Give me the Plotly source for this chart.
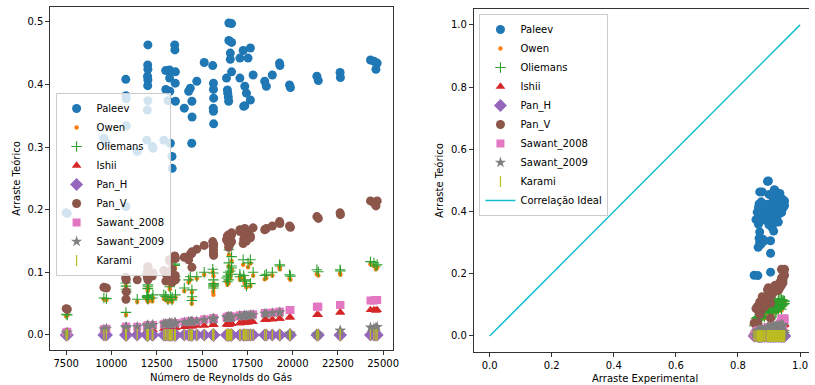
import plotly.graph_objects as go

# ---------------- data ----------------
reynolds = [7500, 7560, 9580, 9720, 10790, 10800, 10810, 10820, 10800, 11420,
            12010, 12000, 12010, 11990, 12010, 12000, 12010, 11980, 11950, 12250, 12290,
            12890, 12990, 13000, 13120, 13490, 13500, 13200, 13530, 13210, 13520, 13220, 13530, 13250, 13340, 13350,
            14020, 14350, 14710, 14260, 14440, 14450, 14430,
            15120, 15590, 15630, 15630, 15640, 15620, 15630, 15640,
            16480, 16630, 16480, 16630, 16560, 16560, 16350, 16400, 16450, 16470, 16420, 16630,
            17270, 17670, 17540, 17090, 17090, 17820, 17360, 17450, 17670, 17360, 17300,
            18460, 18550, 18880, 19280, 19300, 19830, 19880, 21340, 21420, 22620, 22640,
            24300, 24490, 24670, 24600]

arraste_exp = [0.852, 0.864, 0.868, 0.872, 0.885, 0.878, 0.874, 0.870, 0.905, 0.872,
               0.870, 0.875, 0.868, 0.866, 0.885, 0.862, 0.858, 0.866, 0.872, 0.870, 0.876,
               0.880, 0.875, 0.870, 0.872, 0.878, 0.900, 0.895, 0.900, 0.890, 0.878, 0.876, 0.870, 0.885, 0.865, 0.905,
               0.900, 0.905, 0.912, 0.895, 0.885, 0.910, 0.905,
               0.915, 0.920, 0.912, 0.905, 0.898, 0.910, 0.900, 0.915,
               0.898, 0.895, 0.917, 0.920, 0.910, 0.915, 0.925, 0.930, 0.920, 0.910, 0.925, 0.930,
               0.930, 0.935, 0.940, 0.935, 0.930, 0.945, 0.940, 0.920, 0.925, 0.930, 0.920,
               0.935, 0.940, 0.940, 0.945, 0.940, 0.940, 0.935, 0.945, 0.940, 0.950, 0.945,
               0.940, 0.945, 0.950, 0.948]

paleev = [0.195, 0.194, 0.314, 0.307, 0.408, 0.382, 0.377, 0.334, 0.205, 0.293,
          0.463, 0.431, 0.424, 0.413, 0.407, 0.398, 0.374, 0.359, 0.311, 0.301, 0.298,
          0.311, 0.422, 0.392, 0.374, 0.463, 0.455, 0.423, 0.420, 0.410, 0.402, 0.389, 0.373, 0.306, 0.285, 0.266,
          0.362, 0.394, 0.405, 0.389, 0.373, 0.348, 0.306,
          0.435, 0.430, 0.402, 0.392, 0.378, 0.362, 0.357, 0.337,
          0.498, 0.497, 0.470, 0.467, 0.450, 0.440, 0.410, 0.391, 0.380, 0.373, 0.386, 0.420,
          0.454, 0.458, 0.442, 0.442, 0.410, 0.415, 0.397, 0.386, 0.375, 0.366, 0.365,
          0.405, 0.397, 0.415, 0.434, 0.430, 0.399, 0.395, 0.413, 0.406, 0.419, 0.411,
          0.439, 0.437, 0.434, 0.424]

owen = [0.030, 0.031, 0.057, 0.056, 0.078, 0.074, 0.070, 0.066, 0.032, 0.053,
        0.073, 0.070, 0.059, 0.056, 0.076, 0.055, 0.053, 0.056, 0.057, 0.054, 0.059,
        0.058, 0.056, 0.057, 0.053, 0.108, 0.106, 0.091, 0.084, 0.077, 0.088, 0.073, 0.060, 0.057, 0.053, 0.055,
        0.070, 0.088, 0.090, 0.084, 0.068, 0.057, 0.050,
        0.096, 0.100, 0.094, 0.082, 0.077, 0.069, 0.064, 0.075,
        0.128, 0.118, 0.110, 0.102, 0.097, 0.091, 0.085, 0.080, 0.094, 0.083, 0.088, 0.105,
        0.112, 0.114, 0.108, 0.092, 0.088, 0.095, 0.082, 0.076, 0.078, 0.084, 0.091,
        0.089, 0.091, 0.095, 0.108, 0.105, 0.090, 0.088, 0.097, 0.095, 0.098, 0.096,
        0.113, 0.110, 0.108, 0.105]

oliemans = [0.033, 0.032, 0.059, 0.058, 0.083, 0.078, 0.073, 0.069, 0.036, 0.057,
            0.077, 0.074, 0.063, 0.061, 0.080, 0.059, 0.057, 0.060, 0.062, 0.059, 0.064,
            0.064, 0.062, 0.061, 0.056, 0.113, 0.111, 0.096, 0.088, 0.083, 0.093, 0.077, 0.064, 0.061, 0.056, 0.060,
            0.075, 0.093, 0.093, 0.088, 0.072, 0.061, 0.055,
            0.100, 0.105, 0.099, 0.088, 0.080, 0.075, 0.078, 0.082,
            0.136, 0.125, 0.115, 0.107, 0.102, 0.097, 0.091, 0.085, 0.100, 0.088, 0.094, 0.110,
            0.120, 0.120, 0.115, 0.097, 0.093, 0.100, 0.086, 0.078, 0.082, 0.088, 0.095,
            0.095, 0.097, 0.100, 0.112, 0.110, 0.096, 0.094, 0.104, 0.101, 0.104, 0.102,
            0.117, 0.115, 0.112, 0.110]

ishii = [0.001, 0.001, 0.003, 0.003, 0.004, 0.004, 0.004, 0.004, 0.004, 0.005,
         0.006, 0.006, 0.006, 0.006, 0.006, 0.006, 0.006, 0.006, 0.006, 0.008, 0.008,
         0.010, 0.010, 0.010, 0.011, 0.012, 0.012, 0.011, 0.012, 0.011, 0.012, 0.011, 0.012, 0.011, 0.011, 0.011,
         0.013, 0.014, 0.015, 0.014, 0.014, 0.014, 0.014,
         0.015, 0.016, 0.016, 0.016, 0.016, 0.016, 0.016, 0.016,
         0.017, 0.018, 0.017, 0.018, 0.018, 0.018, 0.017, 0.017, 0.017, 0.017, 0.017, 0.018,
         0.020, 0.021, 0.020, 0.019, 0.019, 0.021, 0.020, 0.020, 0.021, 0.020, 0.020,
         0.024, 0.024, 0.025, 0.026, 0.026, 0.028, 0.028, 0.032, 0.032, 0.036, 0.036,
         0.040, 0.040, 0.040, 0.039]

pan_h = [0.0] * 89

pan_v = [0.042, 0.041, 0.076, 0.075, 0.092, 0.090, 0.088, 0.069, 0.057, 0.088,
         0.109, 0.103, 0.100, 0.096, 0.108, 0.094, 0.088, 0.092, 0.097, 0.094, 0.099,
         0.103, 0.098, 0.086, 0.090, 0.126, 0.124, 0.120, 0.122, 0.118, 0.095, 0.093, 0.088, 0.100, 0.084, 0.105,
         0.124, 0.129, 0.137, 0.120, 0.108, 0.133, 0.130,
         0.143, 0.149, 0.143, 0.135, 0.127, 0.140, 0.130, 0.145,
         0.155, 0.149, 0.160, 0.163, 0.146, 0.150, 0.152, 0.158, 0.147, 0.140, 0.155, 0.160,
         0.146, 0.155, 0.163, 0.168, 0.165, 0.171, 0.170, 0.150, 0.158, 0.160, 0.153,
         0.168, 0.170, 0.174, 0.181, 0.178, 0.174, 0.172, 0.189, 0.186, 0.195, 0.192,
         0.214, 0.211, 0.214, 0.206]

sawant_2008 = [0.004, 0.005, 0.009, 0.010, 0.012, 0.012, 0.013, 0.012, 0.013, 0.013,
               0.014, 0.014, 0.015, 0.014, 0.015, 0.014, 0.015, 0.014, 0.014, 0.016, 0.016,
               0.017, 0.018, 0.018, 0.018, 0.019, 0.019, 0.018, 0.019, 0.018, 0.019, 0.018, 0.019, 0.018, 0.018, 0.018,
               0.021, 0.022, 0.022, 0.021, 0.022, 0.022, 0.021,
               0.025, 0.026, 0.026, 0.026, 0.026, 0.026, 0.026, 0.026,
               0.029, 0.029, 0.029, 0.029, 0.029, 0.028, 0.028, 0.029, 0.028, 0.029, 0.028, 0.029,
               0.031, 0.032, 0.032, 0.031, 0.031, 0.033, 0.032, 0.032, 0.032, 0.031, 0.031,
               0.035, 0.035, 0.036, 0.037, 0.037, 0.040, 0.040, 0.045, 0.045, 0.048, 0.048,
               0.055, 0.055, 0.056, 0.056]

sawant_2009 = [0.003, 0.004, 0.009, 0.010, 0.012, 0.011, 0.012, 0.011, 0.012, 0.013,
               0.014, 0.015, 0.014, 0.015, 0.015, 0.014, 0.014, 0.015, 0.014, 0.016, 0.016,
               0.018, 0.018, 0.017, 0.018, 0.019, 0.019, 0.019, 0.018, 0.019, 0.019, 0.018, 0.019, 0.018, 0.019, 0.018,
               0.020, 0.021, 0.022, 0.021, 0.021, 0.022, 0.021,
               0.024, 0.025, 0.026, 0.025, 0.026, 0.025, 0.026, 0.025,
               0.028, 0.028, 0.029, 0.028, 0.029, 0.028, 0.028, 0.028, 0.029, 0.028, 0.028, 0.029,
               0.030, 0.031, 0.031, 0.030, 0.031, 0.032, 0.031, 0.031, 0.032, 0.031, 0.030,
               0.034, 0.034, 0.035, 0.036, 0.036, 0.002, 0.002, 0.001, 0.001, 0.007, 0.007,
               0.012, 0.011, 0.013, 0.012]

karami = [0.0] * 89

ideal_x = [0.0, 1.0]
ideal_y = [0.0, 1.0]

x_ticks_re = [7500, 10000, 12500, 15000, 17500, 20000, 22500, 25000]
y_ticks = [0.0, 0.1, 0.2, 0.3, 0.4, 0.5]
x_ticks_exp = [0.0, 0.2, 0.4, 0.6, 0.8, 1.0]
y_ticks_right = [0.0, 0.2, 0.4, 0.6, 0.8, 1.0]

# ---------------- styles ----------------
series = [
    ("Paleev", paleev, dict(symbol="circle", size=9, color="#1f77b4")),
    ("Owen", owen, dict(symbol="circle", size=4.5, color="#ff7f0e")),
    ("Oliemans", oliemans, dict(symbol="cross-thin", size=7.5, color="#2ca02c",
                                line=dict(color="#2ca02c", width=1.1))),
    ("Ishii", ishii, dict(symbol="triangle-up", size=8.5, color="#d62728")),
    ("Pan_H", pan_h, dict(symbol="diamond", size=10, color="#9467bd")),
    ("Pan_V", pan_v, dict(symbol="circle", size=9, color="#8c564b")),
    ("Sawant_2008", sawant_2008, dict(symbol="square", size=8, color="#e377c2")),
    ("Sawant_2009", sawant_2009, dict(symbol="star", size=8.5, color="#7f7f7f")),
    ("Karami", karami, dict(symbol="line-ns", size=8, color="#bcbd22",
                            line=dict(color="#bcbd22", width=1.2))),
]

fig = go.Figure()
for name, vals, mk in series:
    fig.add_trace(go.Scatter(x=reynolds, y=vals, mode="markers", name=name,
                             marker=mk, xaxis="x", yaxis="y", legend="legend"))
for name, vals, mk in series:
    fig.add_trace(go.Scatter(x=arraste_exp, y=vals, mode="markers", name=name,
                             marker=mk, xaxis="x2", yaxis="y2", legend="legend2"))
fig.add_trace(go.Scatter(x=ideal_x, y=ideal_y, mode="lines", name="Correlação Ideal",
                         line=dict(color="#17becf", width=1.5),
                         xaxis="x2", yaxis="y2", legend="legend2"))

axis_common = dict(showgrid=False, zeroline=False, showline=True, linecolor="#333",
                   linewidth=1, mirror=True, ticks="outside", ticklen=4, tickwidth=1,
                   tickcolor="#333", tickfont=dict(family="DejaVu Sans", size=10, color="#000"))

W, H = 815, 385
fig.update_layout(
    width=W, height=H, autosize=False,
    margin=dict(l=0, r=0, t=0, b=0),
    paper_bgcolor="white", plot_bgcolor="white",
    font=dict(family="DejaVu Sans", size=10, color="#000"),
    xaxis=dict(axis_common, domain=[50.7 / W, 395.5 / W], range=[6623, 25520],
               tickvals=x_ticks_re, tickformat="d", anchor="y"),
    yaxis=dict(axis_common, domain=[1 - 350 / H, 1 - 6.7 / H], range=[-0.024, 0.524],
               tickvals=y_ticks, tickformat=".1f", anchor="x"),
    xaxis2=dict(axis_common, domain=[477.3 / W, 1.0], range=[-0.0512, 1.0288],
                tickvals=x_ticks_exp, tickformat=".1f", anchor="y2"),
    yaxis2=dict(axis_common, mirror=False, domain=[1 - 351.5 / H, 1 - 9.3 / H], range=[-0.05, 1.05],
                tickvals=y_ticks_right, tickformat=".1f", anchor="x2"),
    legend=dict(x=56 / W, y=1 - 93 / H, xanchor="left", yanchor="top",
                bgcolor="rgba(255,255,255,0.8)", bordercolor="#cccccc", borderwidth=1,
                font=dict(family="DejaVu Sans", size=10, color="#000")),
    legend2=dict(x=483 / W, y=1 - 14 / H, xanchor="left", yanchor="top",
                 bgcolor="rgba(255,255,255,0.8)", bordercolor="#cccccc", borderwidth=1,
                 font=dict(family="DejaVu Sans", size=10, color="#000")),
    annotations=[
        dict(text="Número de Reynolds do Gás", xref="paper", yref="paper",
             x=223 / W, y=1 - 377 / H, showarrow=False, xanchor="center", yanchor="middle",
             font=dict(family="DejaVu Sans", size=10, color="#000")),
        dict(text="Arraste Teórico", xref="paper", yref="paper", textangle=-90,
             x=17 / W, y=1 - 178 / H, showarrow=False, xanchor="center", yanchor="middle",
             font=dict(family="DejaVu Sans", size=10, color="#000")),
        dict(text="Arraste Experimental", xref="paper", yref="paper",
             x=650 / W, y=1 - 378 / H, showarrow=False, xanchor="center", yanchor="middle",
             font=dict(family="DejaVu Sans", size=10, color="#000")),
        dict(text="Arraste Teórico", xref="paper", yref="paper", textangle=-90,
             x=443 / W, y=1 - 180 / H, showarrow=False, xanchor="center", yanchor="middle",
             font=dict(family="DejaVu Sans", size=10, color="#000")),
    ],
)

fig.write_html(
    "out.html",
    config={"responsive": False, "displayModeBar": False},
    post_script="document.body.style.margin='0px';document.body.style.overflow='hidden';",
)
